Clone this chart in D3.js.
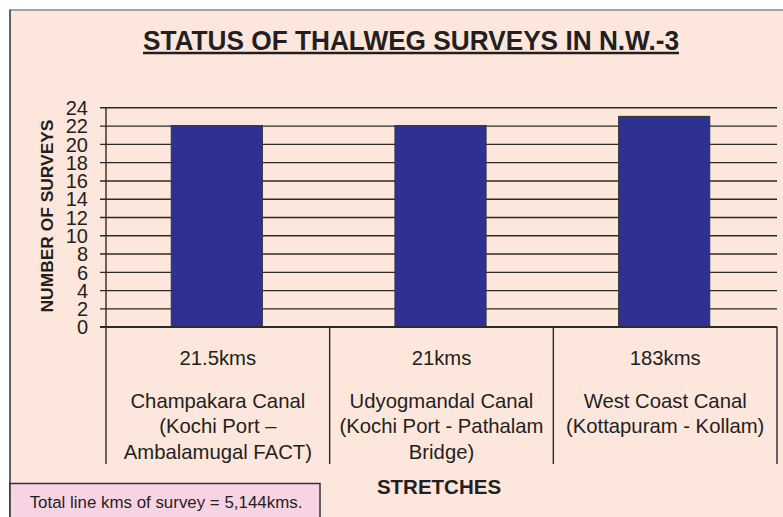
<!DOCTYPE html>
<html>
<head>
<meta charset="utf-8">
<script src="https://cdn.jsdelivr.net/npm/d3@7"></script>
<style>
  html, body { margin: 0; padding: 0; background: #ffffff; }
  svg { display: block; }
  text { font-family: "Liberation Sans", Arial, Helvetica, sans-serif; fill: #231f20; }
</style>
</head>
<body>
<svg id="chart" width="783" height="517"></svg>
<script>
// ---- data ----
const titleText = "STATUS OF THALWEG SURVEYS IN N.W.-3";
const yTitle = "NUMBER OF SURVEYS";
const xTitle = "STRETCHES";
const footnote = "Total line kms of survey = 5,144kms.";
const categories = ["Champakara Canal", "Udyogmandal Canal", "West Coast Canal"];
const lengths = ["21.5kms", "21kms", "183kms"];
const labelLines = [
  ["Champakara Canal", "(Kochi Port \u2013", "Ambalamugal FACT)"],
  ["Udyogmandal Canal", "(Kochi Port - Pathalam", "Bridge)"],
  ["West Coast Canal", "(Kottapuram - Kollam)"]
];
const surveys = [22, 22, 23];
const yTicks = [0, 2, 4, 6, 8, 10, 12, 14, 16, 18, 20, 22, 24];

// ---- layout ----
const svg = d3.select("#chart");
const W = 783, H = 517;
const plot = { left: 106, right: 777, top: 107.3, bottom: 326.7 };

// background panel
svg.append("rect").attr("x", 10).attr("y", 10).attr("width", W - 10).attr("height", H - 10)
  .attr("fill", "#fde6dc");
svg.append("line").attr("x1", 9).attr("x2", W).attr("y1", 10).attr("y2", 10)
  .attr("stroke", "#8a8a8a").attr("stroke-width", 1.5);
svg.append("line").attr("x1", 10).attr("x2", 10).attr("y1", 10).attr("y2", H)
  .attr("stroke", "#333").attr("stroke-width", 1.5);

// title
const title = svg.append("text").attr("x", 411).attr("y", 50)
  .attr("text-anchor", "middle").attr("font-size", 28).attr("font-weight", "bold")
  .attr("textLength", 536).attr("lengthAdjust", "spacingAndGlyphs")
  .text(titleText);
svg.append("line").attr("x1", 143).attr("x2", 679).attr("y1", 53).attr("y2", 53)
  .attr("stroke", "#231f20").attr("stroke-width", 2.6);

// scales
const x = d3.scaleBand().domain(categories).range([plot.left, plot.right]).padding(0);
const y = d3.scaleLinear().domain([0, 24]).range([plot.bottom, plot.top]);
const barFrac = 0.407;

// gridlines + ticks
const yAxis = d3.axisLeft(y).tickValues(yTicks).tickSize(-(plot.right - plot.left)).tickPadding(12).tickSizeOuter(0);
const gy = svg.append("g").attr("transform", `translate(${plot.left},0)`).call(yAxis);
gy.select(".domain").remove();
gy.selectAll(".tick line").attr("x1", -6).attr("stroke", "#2a2a2a").attr("stroke-width", 1.4);
gy.selectAll(".tick text").attr("font-size", 20).attr("fill", "#231f20")
  .attr("font-family", "'Liberation Sans', Arial, sans-serif").attr("x", -18).attr("dy", "0.36em");

// bars
svg.append("g").selectAll("rect").data(surveys).join("rect")
  .attr("x", (d, i) => x(categories[i]) + x.bandwidth() * (1 - barFrac) / 2 - 1)
  .attr("width", x.bandwidth() * barFrac)
  .attr("y", d => y(d))
  .attr("height", d => y(0) - y(d))
  .attr("fill", "#2e3192").attr("stroke", "#3a3a3a").attr("stroke-width", 1.2);

// zero line & vertical axis
svg.append("line").attr("x1", plot.left - 6).attr("x2", plot.right).attr("y1", y(0)).attr("y2", y(0))
  .attr("stroke", "#2a2a2a").attr("stroke-width", 1.6);
svg.append("line").attr("x1", plot.left).attr("x2", plot.left).attr("y1", plot.top).attr("y2", 464)
  .attr("stroke", "#2a2a2a").attr("stroke-width", 1.4);

// category separators
const seps = categories.map((c, i) => x(c) + x.bandwidth());
svg.append("g").selectAll("line").data(seps).join("line")
  .attr("x1", d => d).attr("x2", d => d).attr("y1", y(0)).attr("y2", 464)
  .attr("stroke", "#2a2a2a").attr("stroke-width", 1.4);

// category labels
const lab = svg.append("g").selectAll("g").data(categories).join("g")
  .attr("transform", c => `translate(${x(c) + x.bandwidth() / 2},0)`);
lab.append("text").attr("y", 365).attr("text-anchor", "middle").attr("font-size", 20.3)
  .text((c, i) => lengths[i]);
lab.each(function (c, i) {
  d3.select(this).selectAll("text.l").data(labelLines[i]).join("text").attr("class", "l")
    .attr("y", (d, j) => 407.5 + j * 25.8).attr("text-anchor", "middle").attr("font-size", 20.3)
    .text(d => d);
});

// axis titles
svg.append("text").attr("transform", "translate(52.5,216) rotate(-90)")
  .attr("text-anchor", "middle").attr("font-size", 17.4).attr("font-weight", "bold")
  .text(yTitle);
svg.append("text").attr("x", 439).attr("y", 494).attr("text-anchor", "middle")
  .attr("font-size", 20.5).attr("font-weight", "bold").text(xTitle);

// footnote box
svg.append("rect").attr("x", 10).attr("y", 483.5).attr("width", 310).attr("height", 45)
  .attr("fill", "#f8d3e3").attr("stroke", "#333").attr("stroke-width", 1.5);
svg.append("text").attr("x", 166).attr("y", 507.5).attr("text-anchor", "middle")
  .attr("font-size", 16.9).text(footnote);
</script>
</body>
</html>
